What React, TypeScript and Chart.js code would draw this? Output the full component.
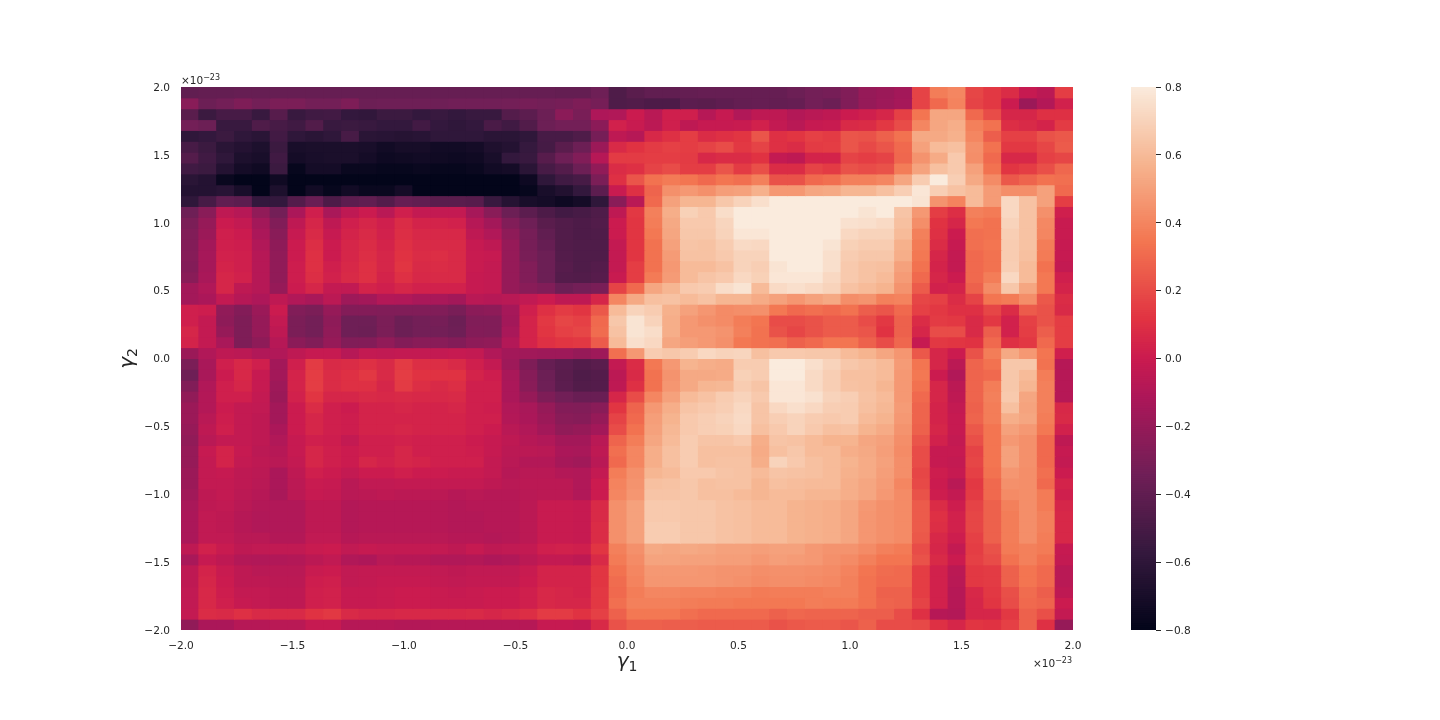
import React, { useEffect, useRef } from "react";
import { Chart, registerables } from "chart.js";

Chart.register(...registerables);

const r00 = [-.40,-.39,-.39,-.38,-.38,-.38,-.38,-.38,-.38,-.38,-.38,-.38,-.38,-.38,-.38,-.38,-.38,-.38,-.38,-.38,-.38,-.39,-.39,-.35,-.47,-.43,-.40,-.40,-.39,-.38,-.38,-.38,-.38,-.38,-.36,-.33,-.32,-.28,-.20,-.18,-.15,.17,.37,.40,.18,.13,.08,-.02,-.06,.15];
const r01 = [-.25,-.36,-.33,-.29,-.33,-.30,-.30,-.33,-.33,-.29,-.36,-.35,-.35,-.35,-.35,-.34,-.34,-.34,-.33,-.32,-.33,-.32,-.29,-.32,-.47,-.46,-.48,-.48,-.42,-.43,-.41,-.39,-.38,-.39,-.38,-.33,-.36,-.28,-.20,-.17,-.14,.17,.30,.39,.17,.13,0,-.18,-.09,.03];
const r02 = [-.43,-.55,-.50,-.50,-.56,-.44,-.56,-.53,-.52,-.58,-.59,-.55,-.55,-.58,-.56,-.58,-.56,-.56,-.45,-.42,-.36,-.24,-.31,-.11,-.10,0,-.07,.02,.02,-.08,-.02,-.10,-.05,-.05,-.09,-.07,-.05,0,.02,.05,.16,.34,.52,.52,.30,.20,.05,.05,.10,.10];
const r03 = [-.33,-.36,-.56,-.56,-.47,-.50,-.53,-.46,-.56,-.55,-.56,-.58,-.58,-.52,-.58,-.60,-.58,-.49,-.53,-.46,-.36,-.33,-.33,-.24,.03,-.01,-.06,.02,-.05,-.02,-.02,-.01,.03,-.03,-.07,-.02,-.01,.07,.08,.13,.20,.40,.52,.55,.38,.33,.09,.07,.04,.14];
const r04 = [-.60,-.58,-.55,-.60,-.62,-.52,-.60,-.62,-.60,-.50,-.62,-.63,-.64,-.63,-.60,-.60,-.60,-.62,-.62,-.60,-.50,-.50,-.47,-.32,-.05,-.08,.06,.10,.15,.08,.10,.12,.23,.10,.12,.16,.14,.23,.22,.27,.33,.53,.53,.56,.40,.26,.16,.16,.22,.24];
const r05 = [-.50,-.55,-.62,-.65,-.68,-.55,-.70,-.69,-.69,-.69,-.70,-.73,-.71,-.71,-.73,-.73,-.72,-.67,-.65,-.57,-.51,-.43,-.36,-.18,.07,.11,.14,.16,.15,.17,.20,.13,.17,.10,.08,.14,.15,.23,.19,.23,.30,.50,.60,.62,.44,.33,.13,.13,.18,.25];
const r06 = [-.45,-.53,-.60,-.68,-.70,-.53,-.72,-.70,-.69,-.69,-.72,-.75,-.74,-.73,-.74,-.75,-.74,-.70,-.58,-.56,-.44,-.35,-.28,-.08,.14,.14,.15,.15,.14,.06,.08,.08,.11,-.03,-.05,.04,.04,.17,.15,.17,.29,.45,.54,.66,.43,.30,.06,.06,.16,.18];
const r07 = [-.53,-.55,-.65,-.72,-.74,-.55,-.78,-.72,-.72,-.77,-.77,-.78,-.78,-.77,-.78,-.78,-.77,-.73,-.72,-.62,-.50,-.45,-.36,-.22,.08,.10,.17,.20,.15,.15,.23,.14,.21,.08,.08,.17,.14,.22,.20,.22,.37,.51,.62,.66,.50,.33,.12,.15,.21,.29];
const r08 = [-.62,-.65,-.77,-.80,-.80,-.74,-.80,-.80,-.80,-.80,-.80,-.80,-.80,-.80,-.80,-.80,-.80,-.80,-.80,-.75,-.60,-.53,-.50,-.30,.10,.23,.33,.36,.34,.30,.34,.32,.38,.22,.22,.30,.32,.38,.38,.40,.52,.67,.80,.68,.53,.42,.24,.28,.33,.32];
const r09 = [-.65,-.65,-.63,-.70,-.80,-.68,-.80,-.73,-.78,-.73,-.77,-.77,-.72,-.80,-.80,-.80,-.80,-.80,-.80,-.78,-.70,-.66,-.58,-.42,-.01,.10,.28,.44,.47,.44,.49,.50,.56,.47,.47,.52,.53,.58,.58,.62,.68,.78,.68,.63,.60,.48,.43,.43,.50,.30];
const r10 = [-.60,-.50,-.40,-.42,-.58,-.58,-.45,-.37,-.48,-.42,-.40,-.45,-.38,-.40,-.43,-.43,-.44,-.56,-.64,-.70,-.72,-.75,-.72,-.60,-.25,-.07,.30,.50,.58,.58,.65,.70,.75,.80,.80,.80,.80,.80,.80,.80,.80,.77,.45,.39,.60,.48,.72,.63,.50,.15];
const r11 = [-.35,-.25,-.05,-.08,-.22,-.33,-.12,.02,-.13,-.05,0,-.07,.02,-.03,-.03,-.03,-.14,-.25,-.36,-.42,-.48,-.52,-.50,-.47,-.05,.13,.38,.55,.69,.66,.74,.80,.80,.80,.80,.80,.80,.80,.77,.80,.64,.47,.15,.09,.38,.36,.72,.63,.44,.02];
const r12 = [-.30,-.20,0,-.03,-.15,-.28,-.05,.05,-.05,.02,.05,.02,.08,.04,.04,.03,-.08,-.15,-.28,-.35,-.43,-.46,-.48,-.46,0,.12,.37,.53,.66,.66,.71,.80,.80,.80,.80,.80,.80,.76,.75,.73,.62,.43,.11,.05,.35,.33,.70,.63,.41,-.01];
const r13 = [-.28,-.18,.02,0,-.12,-.25,-.02,.07,-.02,.04,.07,.03,.09,.06,.06,.06,-.05,-.10,-.23,-.32,-.40,-.46,-.48,-.47,0,.12,.35,.52,.65,.65,.70,.78,.78,.80,.80,.80,.80,.72,.70,.70,.60,.38,.10,0,.32,.33,.68,.63,.40,-.01];
const r14 = [-.27,-.15,.02,.01,-.10,-.23,0,.09,0,.05,.08,.04,.10,.07,.07,.07,-.02,-.05,-.20,-.32,-.38,-.46,-.47,-.47,-.03,.12,.33,.50,.64,.63,.67,.73,.72,.80,.80,.80,.77,.69,.67,.67,.56,.36,.08,-.02,.32,.34,.67,.63,.37,-.02];
const r15 = [-.26,-.14,.03,.02,-.08,-.22,0,.10,0,.05,.09,.05,.11,.08,.09,.07,-.01,-.02,-.20,-.31,-.36,-.45,-.47,-.47,-.03,.12,.33,.48,.63,.63,.66,.70,.70,.80,.80,.80,.75,.67,.65,.65,.55,.35,.05,-.03,.30,.33,.67,.62,.36,-.02];
const r16 = [-.27,-.14,.04,.02,-.08,-.22,.01,.10,.02,.06,.10,.05,.12,.07,.08,.07,-.01,-.03,-.20,-.28,-.36,-.44,-.47,-.45,-.03,.15,.33,.47,.60,.60,.63,.70,.68,.77,.80,.80,.75,.66,.63,.62,.50,.33,.04,-.03,.30,.33,.68,.60,.33,-.03];
const r17 = [-.25,-.13,.05,.03,-.08,-.22,.01,.09,.03,.07,.10,.04,.10,.06,.07,.07,-.02,-.03,-.20,-.28,-.36,-.45,-.46,-.44,-.01,.15,.36,.48,.60,.64,.66,.72,.69,.78,.78,.78,.72,.66,.63,.60,.48,.30,.05,0,.30,.37,.72,.60,.35,.02];
const r18 = [-.15,-.10,.05,-.05,-.08,-.20,0,.05,-.03,-.04,.04,.02,.05,.03,.03,.03,-.02,-.03,-.20,-.25,-.28,-.36,-.33,-.31,.17,.30,.52,.58,.66,.67,.74,.77,.60,.73,.75,.73,.70,.63,.60,.57,.45,.25,.03,.04,.27,.42,.65,.52,.35,.04];
const r19 = [-.15,-.12,-.03,-.08,-.11,-.05,-.10,-.13,-.06,-.17,-.15,-.09,-.10,-.13,-.13,-.15,-.07,-.08,-.07,-.04,0,-.05,-.05,.05,.40,.53,.62,.63,.60,.63,.58,.58,.54,.50,.46,.50,.53,.43,.45,.38,.39,.18,.16,.08,.17,.34,.36,.43,.24,.08];
const r20 = [.02,.01,-.22,-.27,-.18,0,-.28,-.30,-.20,-.27,-.27,-.28,-.28,-.28,-.28,-.31,-.24,-.23,-.14,.02,.10,.14,.12,.24,.60,.70,.67,.56,.50,.46,.42,.43,.44,.35,.30,.32,.30,.33,.26,.23,.30,.16,.13,.10,.10,.18,.08,.25,.22,.07];
const r21 = [.02,-.03,-.23,-.29,-.20,-.03,-.30,-.33,-.23,-.35,-.35,-.30,-.36,-.33,-.32,-.36,-.28,-.28,-.15,.04,.13,.18,.16,.30,.65,.77,.70,.55,.47,.44,.42,.37,.34,.20,.20,.22,.25,.25,.20,.13,.27,.08,.14,.13,.07,.13,.03,.16,.22,.15];
const r22 = [.05,-.03,-.20,-.29,-.20,-.05,-.30,-.33,-.22,-.35,-.36,-.30,-.36,-.33,-.33,-.35,-.27,-.28,-.13,.04,.12,.16,.18,.31,.63,.77,.74,.55,.47,.47,.45,.38,.33,.22,.18,.22,.25,.25,.23,.11,.27,.05,.20,.20,.07,.26,.03,.15,.26,.15];
const r23 = [.04,-.03,-.13,-.29,-.23,-.08,-.24,-.28,-.20,-.28,-.27,-.22,-.27,-.25,-.25,-.27,-.23,-.22,-.09,.04,.10,.12,.13,.25,.60,.75,.72,.52,.49,.47,.44,.35,.33,.32,.27,.30,.34,.34,.27,.20,.29,-.02,.13,.12,.11,.30,.10,.13,.30,.15];
const r24 = [-.18,-.10,-.05,-.06,-.10,-.10,-.05,-.02,-.02,-.08,-.03,-.04,-.03,-.03,-.03,-.02,-.03,-.10,-.15,-.16,-.17,-.17,-.20,-.17,.32,.47,.67,.65,.67,.72,.70,.71,.62,.66,.66,.65,.65,.60,.57,.52,.46,.24,.05,0,.22,.37,.53,.47,.34,.02];
const r25 = [-.30,-.13,.02,.06,.02,-.15,.02,.14,.07,.08,.10,.07,.14,.09,.09,.07,.02,-.03,-.17,-.29,-.38,-.42,-.45,-.43,-.03,.08,.35,.47,.57,.55,.54,.67,.67,.80,.80,.75,.70,.65,.63,.60,.48,.34,.05,-.06,.28,.33,.65,.65,.33,-.08];
const r26 = [-.35,-.13,0,.06,-.02,-.15,.04,.15,.08,.10,.13,.07,.15,.11,.11,.11,.04,.01,-.13,-.26,-.36,-.43,-.47,-.45,-.06,.07,.33,.45,.53,.53,.54,.69,.67,.80,.80,.73,.68,.62,.62,.60,.47,.35,0,-.10,.28,.30,.65,.60,.37,-.08];
const r27 = [-.28,-.10,.02,.05,-.02,-.17,.04,.15,.08,.10,.10,.05,.14,.09,.07,.09,.02,.02,-.12,-.25,-.35,-.42,-.46,-.45,-.05,.10,.33,.46,.53,.58,.59,.67,.64,.78,.78,.73,.68,.63,.62,.58,.47,.33,.05,-.06,.28,.37,.65,.58,.38,-.08];
const r28 = [-.22,-.09,.02,.02,-.03,-.18,.03,.12,.05,.05,.07,.06,.07,.06,.06,.07,.02,.02,-.12,-.20,-.29,-.34,-.37,-.37,.05,.20,.40,.50,.60,.63,.67,.70,.66,.78,.78,.76,.70,.68,.63,.60,.47,.30,.05,-.05,.28,.38,.66,.52,.38,-.08];
const r29 = [-.18,-.09,0,-.03,-.04,-.15,0,.08,.02,0,.04,.04,.05,.04,.04,.05,.02,.01,-.10,-.13,-.20,-.27,-.28,-.25,.12,.28,.47,.55,.64,.66,.68,.72,.64,.72,.75,.72,.68,.67,.62,.59,.48,.28,.04,-.03,.27,.37,.62,.51,.38,.06];
const r30 = [-.18,-.07,.01,-.03,-.05,-.15,0,.05,.02,.01,.04,.04,.04,.04,.04,.04,.02,.02,-.09,-.12,-.18,-.25,-.26,-.20,.17,.30,.49,.57,.66,.68,.70,.73,.64,.68,.70,.67,.66,.67,.60,.57,.47,.28,.04,-.02,.28,.37,.55,.52,.37,.07];
const r31 = [-.20,-.05,.02,-.03,-.05,-.12,0,.05,.02,.01,.04,.04,.05,.04,.04,.04,.02,0,-.07,-.10,-.15,-.22,-.20,-.15,.20,.33,.50,.59,.66,.68,.69,.72,.62,.66,.70,.66,.62,.63,.57,.54,.45,.27,.05,-.02,.24,.34,.50,.47,.35,.03];
const r32 = [-.22,-.07,-.03,-.03,-.05,-.10,-.02,.02,.01,-.03,.02,.02,.03,.02,.02,.02,0,-.02,-.05,-.08,-.10,-.15,-.15,-.07,.28,.37,.52,.60,.67,.64,.64,.66,.55,.64,.63,.60,.57,.57,.52,.50,.43,.23,.03,-.03,.21,.34,.47,.44,.30,-.05];
const r33 = [-.20,-.02,.04,-.02,-.06,-.08,-.02,.05,.02,0,.02,.02,.05,.02,.02,.02,.01,-.02,-.06,-.06,-.07,-.12,-.13,-.05,.32,.40,.55,.62,.67,.62,.62,.62,.54,.62,.65,.60,.60,.55,.53,.49,.42,.20,-.02,-.02,.17,.34,.50,.44,.30,-.02];
const r34 = [-.20,-.03,.04,-.03,-.05,-.07,-.03,.05,.02,0,.05,.03,.05,.04,.02,.02,.02,-.03,-.07,-.09,-.09,-.14,-.16,-.07,.30,.40,.55,.62,.67,.62,.63,.63,.55,.70,.66,.62,.60,.57,.54,.50,.43,.20,-.02,-.03,.18,.34,.50,.44,.30,-.03];
const r35 = [-.18,-.03,-.02,-.05,-.06,-.12,-.05,.02,0,-.03,0,0,.02,0,0,-.01,-.01,-.03,-.08,-.07,-.07,-.09,-.10,-.03,.37,.44,.58,.60,.66,.66,.64,.63,.60,.64,.63,.62,.60,.56,.54,.49,.43,.18,.01,-.02,.16,.33,.46,.43,.32,0];
const r36 = [-.18,-.03,-.03,-.05,-.07,-.12,-.06,-.01,-.02,-.07,-.04,-.04,-.03,-.03,-.03,-.03,-.03,-.05,-.07,-.06,-.06,-.06,-.10,0,.39,.45,.62,.63,.65,.62,.63,.63,.58,.62,.61,.60,.60,.55,.52,.48,.40,.19,0,-.07,.13,.30,.44,.43,.30,.04];
const r37 = [-.16,-.05,-.03,-.06,-.08,-.13,-.06,-.02,-.03,-.07,-.06,-.05,-.06,-.06,-.06,-.08,-.07,-.08,-.08,-.07,-.06,-.06,-.10,0,.40,.46,.64,.64,.65,.62,.62,.60,.58,.60,.60,.58,.58,.55,.52,.47,.42,.22,.01,-.03,.14,.30,.42,.43,.36,.02];
const r38 = [-.13,-.05,-.04,-.07,-.09,-.10,-.10,-.05,-.05,-.09,-.08,-.08,-.08,-.08,-.08,-.09,-.08,-.08,-.08,-.06,-.01,-.01,-.02,.07,.44,.50,.66,.66,.65,.65,.63,.62,.60,.60,.57,.56,.55,.52,.47,.44,.42,.25,.08,.01,.17,.27,.38,.43,.36,.05];
const r39 = [-.12,-.04,-.05,-.08,-.10,-.10,-.10,-.05,-.05,-.09,-.08,-.08,-.08,-.08,-.08,-.09,-.09,-.08,-.08,-.06,-.01,-.01,-.02,.07,.44,.50,.66,.66,.65,.65,.63,.62,.60,.60,.57,.56,.55,.52,.46,.44,.42,.25,.10,.03,.18,.27,.37,.43,.38,.06];
const r40 = [-.12,-.04,-.05,-.08,-.10,-.10,-.10,-.05,-.05,-.09,-.08,-.08,-.08,-.08,-.08,-.09,-.09,-.08,-.08,-.06,-.01,-.01,-.02,.08,.44,.50,.67,.67,.65,.65,.63,.62,.60,.60,.57,.56,.55,.52,.46,.44,.42,.25,.09,.03,.18,.27,.37,.43,.38,.06];
const r41 = [-.12,-.04,-.04,-.07,-.07,-.09,-.09,-.04,-.04,-.08,-.07,-.07,-.07,-.07,-.07,-.08,-.08,-.09,-.08,-.06,-.01,-.01,-.02,.08,.44,.50,.67,.67,.65,.65,.63,.62,.60,.60,.57,.56,.55,.52,.46,.44,.42,.24,.06,.01,.16,.27,.37,.43,.37,.06];
const r42 = [-.05,.03,-.01,-.05,-.04,-.04,-.04,-.01,0,-.04,-.02,-.03,-.03,-.03,-.03,-.05,-.02,-.05,-.04,-.03,.02,.03,.02,.12,.38,.44,.53,.52,.53,.52,.50,.50,.49,.50,.50,.47,.45,.45,.42,.38,.36,.20,.05,-.03,.15,.22,.36,.38,.36,-.02];
const r43 = [-.13,-.02,-.05,-.09,-.10,-.10,-.09,-.06,-.04,-.10,-.11,-.07,-.08,-.08,-.10,-.10,-.09,-.11,-.10,-.06,-.03,-.03,-.05,.07,.36,.42,.51,.51,.50,.50,.49,.49,.47,.49,.48,.47,.44,.42,.38,.34,.34,.22,.07,0,.16,.20,.33,.38,.33,-.03];
const r44 = [-.05,.04,-.01,-.05,-.07,-.07,-.07,-.01,0,-.04,-.03,-.03,-.03,-.03,-.04,-.05,-.04,-.04,-.04,-.01,.04,.04,.04,.12,.33,.40,.47,.47,.47,.46,.45,.45,.43,.44,.44,.43,.42,.39,.34,.31,.30,.15,.03,-.06,.13,.14,.27,.34,.30,-.07];
const r45 = [-.05,.05,0,-.05,-.05,-.06,-.06,.01,.02,-.04,-.03,-.02,-.02,-.02,-.03,-.04,-.03,-.03,-.03,0,.04,.04,.04,.12,.31,.39,.46,.46,.46,.46,.45,.44,.42,.43,.43,.42,.41,.38,.33,.30,.30,.15,.03,-.07,.13,.14,.27,.34,.30,-.07];
const r46 = [-.04,.06,.01,-.03,-.03,-.05,-.05,.02,.03,-.02,-.02,-.01,0,0,-.01,-.02,-.01,0,0,.02,.06,.05,.04,.13,.30,.37,.40,.40,.39,.39,.38,.38,.36,.37,.37,.37,.38,.38,.33,.27,.27,.15,.03,-.08,.06,.13,.21,.31,.26,-.05];
const r47 = [-.04,.06,.02,-.02,-.03,-.05,-.05,.02,.03,-.02,-.02,-.01,0,0,-.01,-.01,-.01,0,0,.02,.06,.05,.05,.13,.32,.38,.38,.38,.37,.36,.36,.35,.35,.35,.35,.37,.36,.36,.33,.28,.27,.17,.03,-.08,.05,.12,.20,.30,.28,0];
const r48 = [-.03,.08,.07,.10,.07,.07,.07,.11,.13,.07,.05,.05,.06,.06,.06,.06,.07,.05,.07,.09,.14,.14,.11,.16,.27,.35,.35,.35,.32,.30,.30,.30,.30,.27,.29,.28,.28,.28,.26,.26,.20,.10,-.08,-.09,.05,.05,.13,.27,.21,-.03];
const r49 = [-.22,-.12,-.12,-.08,-.08,-.07,-.07,-.02,-.02,-.08,-.08,-.08,-.09,-.09,-.08,-.08,-.08,-.08,-.08,-.08,-.02,-.02,-.03,.07,.22,.27,.27,.26,.26,.25,.25,.25,.25,.22,.24,.25,.25,.23,.27,.20,.20,.19,.10,.05,.12,.11,.16,.27,.10,-.20];

const gridRows = [r00,r01,r02,r03,r04,r05,r06,r07,r08,r09,r10,r11,r12,r13,r14,r15,r16,r17,r18,r19,r20,r21,r22,r23,r24,r25,r26,r27,r28,r29,r30,r31,r32,r33,r34,r35,r36,r37,r38,r39,r40,r41,r42,r43,r44,r45,r46,r47,r48,r49];

const gammaMin = -2;
const gammaMax = 2;
const barMin = -0.8;
const barMax = 0.8;
const rocketPositions = [0, 1 / 7, 2 / 7, 3 / 7, 0.5, 4 / 7, 5 / 7, 6 / 7, 1];
const rocketStops = ["#03051a","#35193e","#701f57","#ad1759","#cb1b4f","#e13342","#f37651","#f6b48f","#faebdd"];

const FONT = '"DejaVu Sans"';
const INK = "#262626";

function hexRgb(h: string) {
  return [parseInt(h.slice(1, 3), 16), parseInt(h.slice(3, 5), 16), parseInt(h.slice(5, 7), 16)];
}
function rocket(v: number) {
  const t = Math.max(0, Math.min(1, (v - barMin) / (barMax - barMin)));
  let i = 0;
  while (i < rocketPositions.length - 2 && t > rocketPositions[i + 1]) i++;
  const f = (t - rocketPositions[i]) / (rocketPositions[i + 1] - rocketPositions[i]);
  const a = hexRgb(rocketStops[i]);
  const b = hexRgb(rocketStops[i + 1]);
  const c = a.map((x, k) => Math.round(x + (b[k] - x) * f));
  return `rgb(${c[0]},${c[1]},${c[2]})`;
}
const minusTick = (v: number | string) => {
  const n = Number(v);
  const s = Math.abs(n).toFixed(1);
  return n < -1e-9 ? "\u2212" + s : s;
};

function drawOffset(ctx: CanvasRenderingContext2D, x: number, y: number) {
  ctx.save();
  ctx.fillStyle = INK;
  ctx.textAlign = "left";
  ctx.textBaseline = "alphabetic";
  ctx.font = `10.5px ${FONT}`;
  ctx.fillText("\u00d710", x, y);
  const w = ctx.measureText("\u00d710").width;
  ctx.font = `8px ${FONT}`;
  ctx.fillText("\u221223", x + w, y - 4);
  ctx.restore();
}

function drawGamma(ctx: CanvasRenderingContext2D, sub: string) {
  ctx.fillStyle = INK;
  ctx.textAlign = "left";
  ctx.textBaseline = "alphabetic";
  ctx.font = `italic 20px ${FONT}`;
  const w1 = ctx.measureText("\u03b3").width;
  ctx.font = `14px ${FONT}`;
  const w2 = ctx.measureText(sub).width;
  const start = -(w1 + w2) / 2;
  ctx.font = `italic 20px ${FONT}`;
  ctx.fillText("\u03b3", start, 0);
  ctx.font = `14px ${FONT}`;
  ctx.fillText(sub, start + w1, 4);
}

const labelPlugin = {
  id: "labelText",
  afterDraw(chart: any) {
    const { ctx, chartArea } = chart;
    drawOffset(ctx, chartArea.left, chartArea.top - 3);
    drawOffset(ctx, chartArea.right - 40, chartArea.bottom + 37);
    ctx.save();
    ctx.translate((chartArea.left + chartArea.right) / 2, 667);
    drawGamma(ctx, "1");
    ctx.restore();
    ctx.save();
    ctx.translate(133, (chartArea.top + chartArea.bottom) / 2);
    ctx.rotate(-Math.PI / 2);
    drawGamma(ctx, "2");
    ctx.restore();
  },
};

export default function App() {
  const mainRef = useRef<HTMLCanvasElement>(null);
  const barRef = useRef<HTMLCanvasElement>(null);

  useEffect(() => {
    document.body.style.margin = "0";
    const n = gridRows.length;
    const m = gridRows[0].length;
    const dx = (gammaMax - gammaMin) / m;
    const dy = (gammaMax - gammaMin) / n;
    const datasets = gridRows.map((row, r) => ({
      grouped: false,
      barPercentage: 1,
      categoryPercentage: 1,
      borderWidth: 0,
      inflateAmount: 0.5,
      backgroundColor: row.map(rocket),
      data: row.map((_, c) => ({
        x: gammaMin + (c + 0.5) * dx,
        y: [gammaMax - (r + 1) * dy, gammaMax - r * dy],
      })),
    }));
    const tickFont = { family: FONT, size: 10.6 };
    const main = new Chart(mainRef.current!, {
      type: "bar",
      data: { datasets: datasets as any },
      plugins: [labelPlugin],
      options: {
        responsive: false,
        animation: false,
        events: [],
        layout: { padding: { left: 111, top: 87, right: 367, bottom: 30 } },
        plugins: { legend: { display: false }, tooltip: { enabled: false } },
        scales: {
          x: {
            type: "linear",
            min: gammaMin,
            max: gammaMax,
            offset: false,
            grid: { display: false, offset: false, drawTicks: false },
            border: { display: false },
            ticks: { stepSize: 0.5, color: INK, font: tickFont, padding: 10, maxRotation: 0, callback: minusTick },
            afterFit(s: any) { s.height = 60; },
          },
          y: {
            type: "linear",
            min: gammaMin,
            max: gammaMax,
            grid: { display: false, drawTicks: false },
            border: { display: false },
            ticks: { stepSize: 0.5, color: INK, font: tickFont, padding: 11, labelOffset: 1, callback: minusTick },
            afterFit(s: any) { s.width = 70; },
          },
        },
      } as any,
    });

    const levels: number[] = [];
    for (let i = 0; i < 255; i++) levels.push(i);
    const step = (barMax - barMin) / levels.length;
    const barDatasets = levels.map((i) => ({
      grouped: false,
      barPercentage: 1,
      categoryPercentage: 1,
      borderWidth: 0,
      inflateAmount: 0.5,
      backgroundColor: rocket(barMin + (i + 0.5) * step),
      data: [{ x: "bar", y: [barMin + i * step, barMin + (i + 1) * step] }],
    }));
    const cbar = new Chart(barRef.current!, {
      type: "bar",
      data: { labels: ["bar"], datasets: barDatasets as any },
      options: {
        responsive: false,
        animation: false,
        events: [],
        layout: { padding: { left: 31, top: 87, right: 4, bottom: 90 } },
        plugins: { legend: { display: false }, tooltip: { enabled: false } },
        scales: {
          x: { display: false },
          y: {
            position: "right",
            min: barMin,
            max: barMax,
            grid: { drawOnChartArea: false, drawTicks: true, tickLength: 5, tickColor: INK, tickWidth: 1 },
            border: { display: false },
            ticks: { stepSize: 0.2, color: INK, font: tickFont, padding: 4, labelOffset: 1, callback: minusTick },
            afterFit(s: any) { s.width = 60; },
          },
        },
      } as any,
    });
    return () => {
      main.destroy();
      cbar.destroy();
    };
  }, []);

  return (
    <div style={{ position: "relative", width: 1440, height: 720, background: "#fff", overflow: "hidden" }}>
      <canvas ref={mainRef} width={1440} height={720} style={{ position: "absolute", left: 0, top: 0 }} />
      <canvas ref={barRef} width={120} height={720} style={{ position: "absolute", left: 1100, top: 0 }} />
    </div>
  );
}
